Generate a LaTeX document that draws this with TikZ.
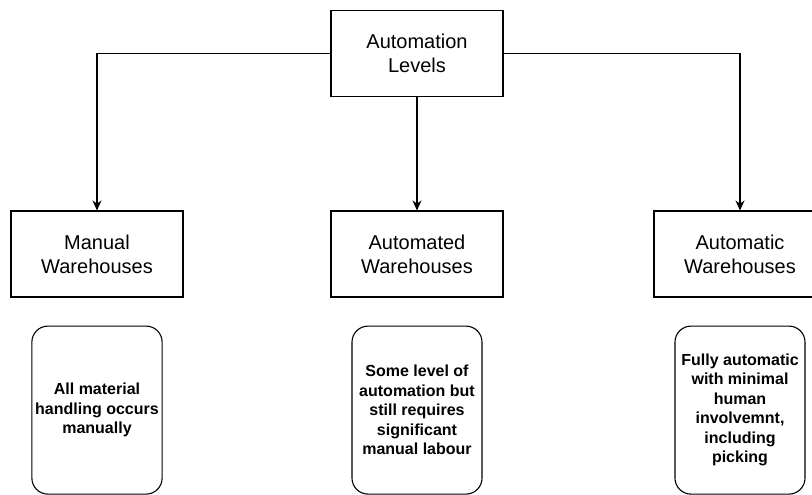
\documentclass[tikz,border=0pt]{standalone}
\usepackage{fontspec}
\setmainfont{Liberation Sans}
\usetikzlibrary{positioning,arrows.meta}
\begin{document}
\begin{tikzpicture}[x=1pt, y=-1pt, >={Stealth[length=10pt,width=9pt]}, line width=1.1pt,
  levelbox/.style={draw, minimum width=172pt, minimum height=86pt, align=center,
    font=\fontsize{20}{24}\selectfont},
  notebox/.style={draw, rounded corners=16pt, minimum width=130pt, minimum height=168pt,
    align=center, font=\fontsize{16}{19.5}\selectfont\bfseries}]
 \clip (0,0) rectangle (812,495);
 \node[levelbox] (levels) at (417,53.5) {Automation\\Levels};
 \node[levelbox] (manual) at (97,254) {Manual\\Warehouses};
 \node[levelbox] (automated) at (417,254) {Automated\\Warehouses};
 \node[levelbox] (automatic) at (740,254) {Automatic\\Warehouses};
 \node[notebox, below=28pt of manual] (manualnote) {All material\\handling occurs\\manually};
 \node[notebox, below=28pt of automated] (automatednote) {Some level of\\automation but\\still requires\\significant\\manual labour};
 \node[notebox, below=28pt of automatic] (automaticnote) {Fully automatic\\with minimal\\human\\involvemnt,\\including\\picking};
 \draw[->](levels.west) -| (manual.north);
 \draw[->](levels.south) -- (automated.north);
 \draw[->](levels.east) -| (automatic.north);
\end{tikzpicture}
\end{document}
